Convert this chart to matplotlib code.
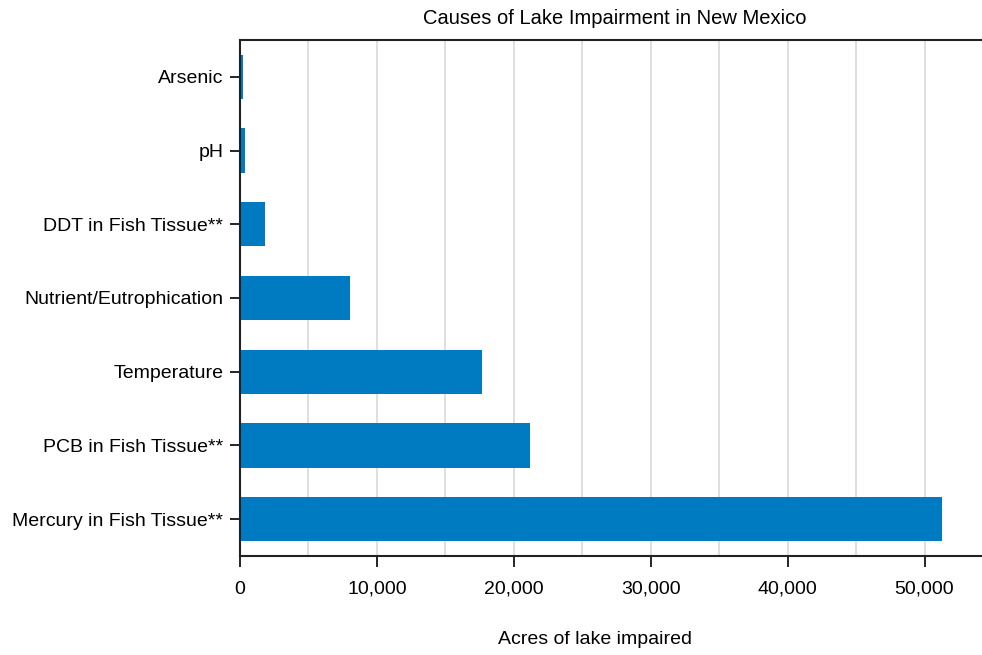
import matplotlib
matplotlib.use('Agg')
import matplotlib.pyplot as plt
from matplotlib.ticker import MultipleLocator, FuncFormatter

plt.rcParams['font.family'] = ['Liberation Sans Narrow', 'Liberation Sans', 'DejaVu Sans']

causes = ['Mercury in Fish Tissue**', 'PCB in Fish Tissue**', 'Temperature',
          'Nutrient/Eutrophication', 'DDT in Fish Tissue**', 'pH', 'Arsenic']
acres = [51300, 21150, 17650, 8000, 1800, 350, 220]

fig = plt.figure(figsize=(9.82, 6.55), dpi=100)
ax = fig.add_axes([240 / 982, 99 / 655, 742 / 982, 516 / 655])

ax.barh(range(len(causes)), acres, height=0.6, color='#007ac1', zorder=2)
ax.set_yticks(range(len(causes)))
ax.set_yticklabels(causes, fontsize=14)
ax.set_ylim(-0.5, 6.5)
ax.set_xlim(0, 54200)

# grid every 5000, labels every 10000
ax.xaxis.set_minor_locator(MultipleLocator(5000))
ax.xaxis.set_major_locator(MultipleLocator(10000))
ax.xaxis.set_major_formatter(FuncFormatter(lambda v, p: '{:,.0f}'.format(v)))
ax.grid(axis='x', which='both', color='#d9d9d9', linewidth=1.2, zorder=0)
ax.tick_params(axis='x', which='major', length=8, width=1.2, labelsize=14, pad=10)
ax.tick_params(axis='x', which='minor', length=0)
ax.tick_params(axis='y', length=7, width=1.2, pad=5)

for s in ['left', 'bottom', 'top']:
    ax.spines[s].set_linewidth(1.5)
    ax.spines[s].set_color('#222222')
ax.spines['right'].set_visible(False)

fig.text(615 / 982, 1 - 18 / 655, 'Causes of Lake Impairment in New Mexico',
         ha='center', va='center', fontsize=14.5)
fig.text(595 / 982, 1 - 640 / 655, 'Acres of lake impaired',
         ha='center', va='center', fontsize=14)

fig.savefig('out.png', dpi=100)
